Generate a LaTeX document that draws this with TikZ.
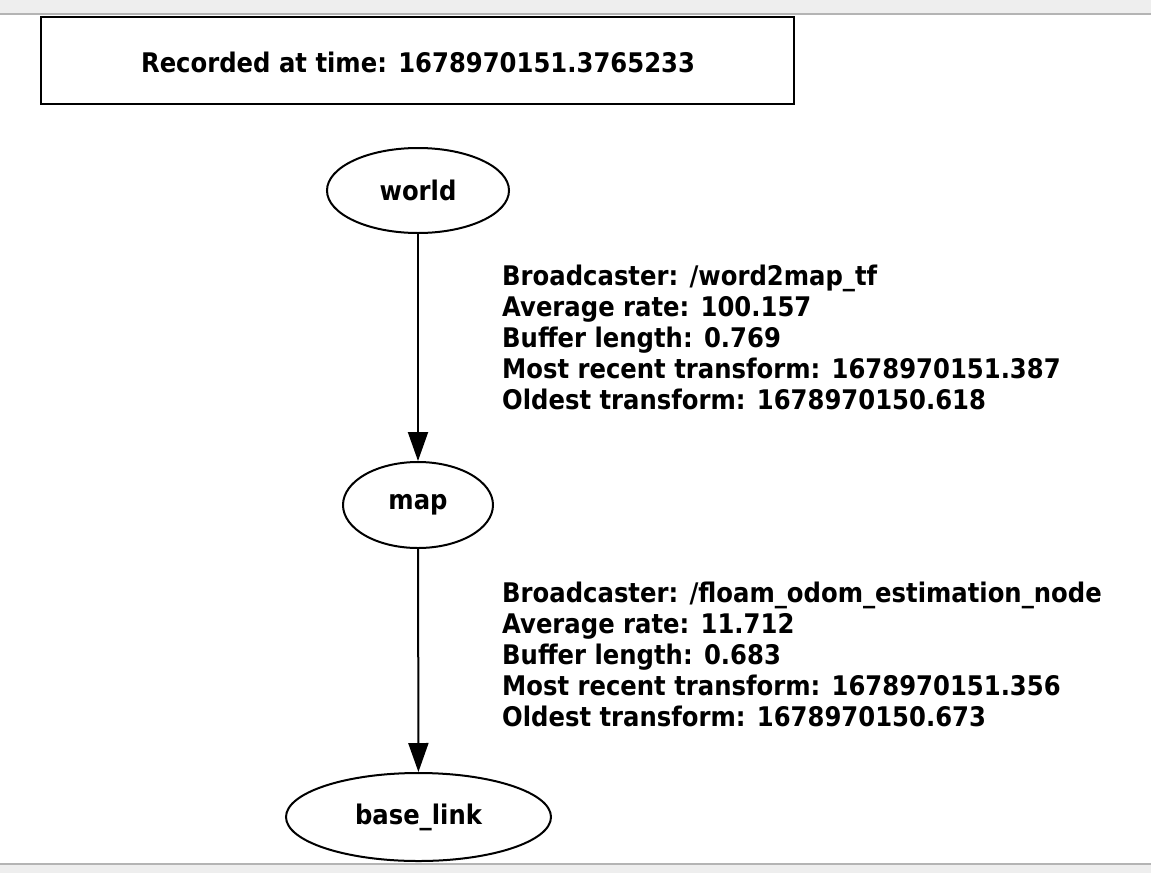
\documentclass[tikz,border=0pt]{standalone}
\usepackage{fontspec}
\newfontfamily\gvfont{DejaVu Sans Bold}[FakeStretch=0.9]
\usetikzlibrary{shapes.geometric,arrows.meta}
\definecolor{bandgray}{HTML}{EEEEEE}
\definecolor{bandline}{HTML}{B4B4B4}
\begin{document}
\begin{tikzpicture}[x=1pt,y=-1pt,
  txt/.style={font=\gvfont\fontsize{27}{31}\selectfont, inner sep=0pt},
  nodeshape/.style={draw, ellipse, line width=2pt, inner sep=0pt},
  conn/.style={line width=2pt, -{Triangle[length=29pt,width=20pt]}}]
\useasboundingbox (0,0) rectangle (1151,873);
\fill[white] (0,0) rectangle (1151,873);
\fill[bandgray] (0,0) rectangle (1151,14);
\draw[bandline, line width=1.5pt] (0,14) -- (1151,14);
\fill[bandgray] (0,864) rectangle (1151,873);
\draw[bandline, line width=1.5pt] (0,864) -- (1151,864);
\node[draw, line width=2pt, minimum width=753pt, minimum height=87pt, anchor=center, inner sep=0pt] (rec) at (417.5,60.5) {};
\node[txt] (rect) at (418,62) {Recorded at time: 1678970151.3765233};
\node[nodeshape, minimum width=182pt, minimum height=85pt] (world) at (418,190.5) {};
\node[txt] at (world.center) {world};
\node[nodeshape, minimum width=150pt, minimum height=86pt] (map) at (418,505) {};
\node[txt] at (map.center) {map};
\node[nodeshape, minimum width=265pt, minimum height=88pt] (base) at (418.5,817) {};
\node[txt] at (base.center) {base\_link};
\draw[conn] (world) -- (map);
\draw[conn] (map) -- (base);
\node[txt, anchor=north west, align=left] (l1) at (502,265) {Broadcaster: /word2map\_tf\\Average rate: 100.157\\Buffer length: 0.769\\Most recent transform: 1678970151.387\\Oldest transform: 1678970150.618};
\node[txt, anchor=north west, align=left] (l2) at (502,582) {Broadcaster: /floam\_odom\_estimation\_node\\Average rate: 11.712\\Buffer length: 0.683\\Most recent transform: 1678970151.356\\Oldest transform: 1678970150.673};
\end{tikzpicture}
\end{document}
